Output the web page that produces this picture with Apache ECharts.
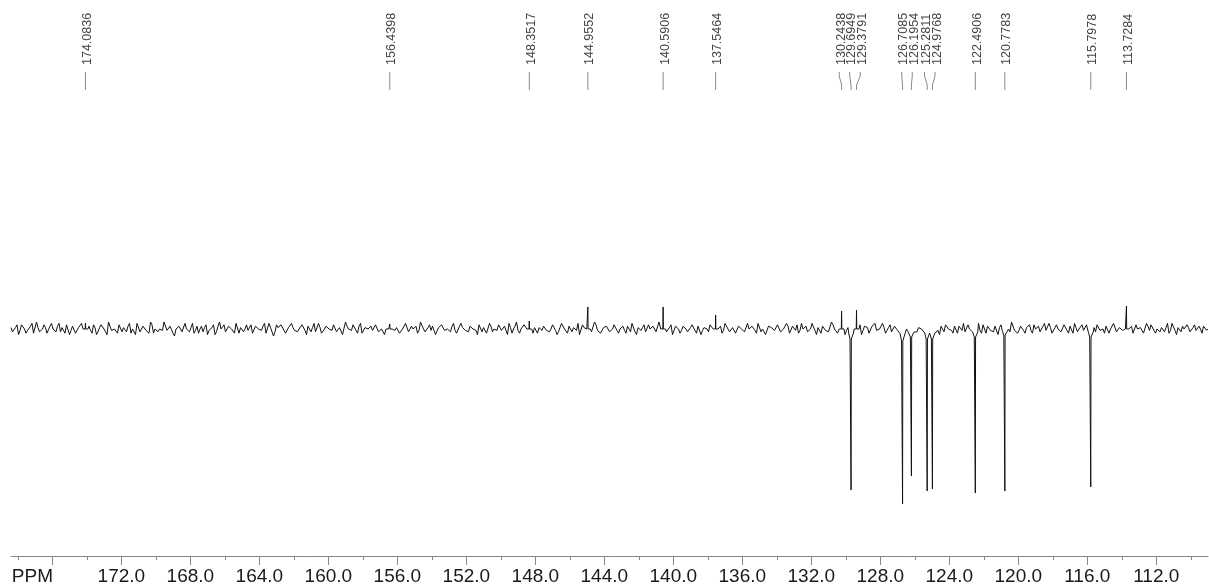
<!DOCTYPE html>
<html>
<head>
<meta charset="utf-8">
<script src="https://cdn.jsdelivr.net/npm/echarts@6/dist/echarts.min.js"></script>
<style>
  html, body { margin: 0; padding: 0; background: #fff; }
  #chart { width: 1209px; height: 588px; }
</style>
</head>
<body>
<div id="chart"></div>
<script>
// axis range (ppm, inverted)
const ppmMax = 178.4;
const ppmMin = 109.0;
const majorTicks = [176, 172, 168, 164, 160, 156, 152, 148, 144, 140, 136, 132, 128, 124, 120, 116, 112];
const minorTicks = [178, 174, 170, 166, 162, 158, 154, 150, 146, 142, 138, 134, 130, 126, 122, 118, 114, 110];

// picked peaks
const peakPpm = [174.0836, 156.4398, 148.3517, 144.9552, 140.5906, 137.5464, 130.2438, 129.6949, 129.3791,
  126.7085, 126.1954, 125.2811, 124.9768, 122.4906, 120.7783, 115.7978, 113.7284];
const peakHeight = [6, 5, 8, 22, 22, 14, 18, -161, 19, -175, -147, -162, -160, -164, -162, -158, 23];
const peakDip = [0, 0, 0, 0, 0, 0, 0, -10, 0, -12, -8, -10, -10, -8, -6, -8, 0];

// baseline noise, read left to right (two interleaved runs)
const noise = [
  1,-2,3,-1,2,-3,0,4,-2,1,-1,3,-3,2,0,-2,4,1,-3,2,
  -1,3,-2,0,5,-1,2,-3,1,-2,3,0,-4,2,-1,1,3,-2,0,2,
  -3,1,4,-2,2,-1,-3,3,0,-2,1,5,-1,2,-3,0,2,-2,4,-1,
  1,-3,2,0,-2,3,-1,1,-4,2,0,3,-2,1,-1,4,-3,2,0,-1,
  3,-2,1,-1,2,-3,4,0,-2,1,3,-1,-3,2,1,-2,0,3,-1,2,
  -2,4,-1,1,-3,2,0,-1,3,-2,1,-4,2,0,3,-1,2,-3,1,0,
  2,-1,3,-3,1,0,-2,5,-1,2,-2,1,3,-3,0,2,-1,4,-2,1,
  -1,2,-3,1,3,-2,0,2,-1,-3,4,1,-2,2,0,-1,3,-2,1,-4,
  2,0,-1,3,-2,1,4,-3,2,-1,0,3,-2,1,-3,2,1,-1,3,-2,
  0,2,-4,1,3,-1,2,-2,0,4,-3,1,-1,2,-2,3,0,-3,2,1,
  -2,3,-1,0,2,-3,1,4,-2,1,-1,3,-3,0,2,-2,5,-1,1,-2,
  3,-1,1,-3,2,0,-2,3,-1,2,-4,1,0,3,-2,2,-1,-3,4,0,
  -1,2,-2,3,1,-3,0,2,-1,4,-2,1,-3,2,0,-1,3,-2,1,2,
  -3,1,3,-1,0,2,-2,4,-1,1,-3,2,0,-2,3,1,-1,2,-4,1,
  2,-2,0,3,-1,1,-3,2,4,-2,0,1,-1,3,-3,2,-1,0,2,-2,
  1,3,-2,0,-1,4,-3,2,1,-1,2,-2,3,0,-3,1,2,-1,-2,3,
  0,-2,2,-1,3,-3,1,0,2,-4,3,-1,1,-2,4,0,-1,2,-3,1,
  -1,3,0,-2,2,-1,4,-3,1,0,-2,3,-1,2,-3,1,0,3,-2,2,
  -2,1,3,-1,0,2,-3,1,4,-2,1,-1,2,0,-3,3,-1,1,-2,2,
  3,-1,0,-2,2,1,-3,4,-1,1,-2,0,3,-2,1,-1,2,-3,1,0
];
const noiseB = [
  -2,1,-4,3,0,-1,2,-3,5,-2,0,1,-3,4,-1,2,-2,0,3,-4,
  2,-3,1,4,-2,0,-1,3,-4,1,2,-2,5,-1,0,-3,2,1,-2,4,
  0,-4,3,-1,2,-2,5,-3,1,0,-1,4,-2,2,-5,1,3,-1,0,-2,
  4,-1,-3,2,1,-4,0,3,-2,5,-1,-2,2,0,-3,4,1,-2,3,-1,
  -3,2,0,-1,4,-2,1,-5,3,0,2,-3,1,4,-1,-2,0,3,-4,2,
  1,-2,4,-3,0,2,-1,3,-2,1,-4,5,0,-1,2,-3,4,-2,1,-1,
  -1,3,-2,0,-4,2,3,-1,1,-3,0,4,-2,2,-1,-3,5,0,-2,3,
  2,-4,1,3,-1,0,-2,4,-3,2,1,-1,-2,3,0,-4,2,1,-3,4,
  -2,0,3,-1,2,-4,1,0,5,-3,-1,2,-2,4,1,-3,0,2,-1,-2,
  3,-1,-2,4,0,-3,2,1,-1,-4,3,0,2,-2,5,-1,-3,1,2,-2,
  0,4,-3,1,-1,2,-2,5,-4,0,1,-2,3,-1,2,-3,0,4,-2,1,
  -4,2,0,-1,3,-2,1,4,-3,2,-1,0,-2,3,1,-4,2,-1,5,-2,
  1,-3,2,0,-2,4,-1,1,-3,3,0,-4,2,1,-1,3,-2,0,4,-3,
  2,-1,-3,4,1,-2,0,3,-4,1,2,-1,-2,5,0,-3,1,2,-1,-2,
  -1,3,0,-4,2,1,-2,3,-1,0,4,-3,1,-2,2,-1,5,-2,0,-3,
  3,-2,1,0,-3,4,-1,2,-2,-4,1,3,0,-1,2,-3,1,4,-2,0,
  -2,1,4,-3,0,2,-1,-2,3,1,-4,2,0,5,-1,-3,2,-1,1,3,
  -3,0,2,-1,4,-2,1,-4,3,0,-1,2,-3,1,4,-2,0,-1,3,-2,
  1,-2,3,-1,-3,2,0,4,-2,1,-1,-4,3,2,-2,0,1,-3,4,-1,
  2,-3,0,1,-2,4,-1,3,-4,0,2,-1,1,-3,3,-2,0,2,-1,1
];
const noiseGain = 1.4;

// build spectrum points
const step = (ppmMax - ppmMin) / (noise.length - 1);
let pts = [];
const addNoise = (p, v) => {
  if (p < ppmMin) return;
  if (!peakPpm.some(pp => Math.abs(pp - p) < 0.16)) pts.push([p, v * noiseGain]);
};
noise.forEach((v, i) => {
  addNoise(ppmMax - i * step, v);
  addNoise(ppmMax - (i + 0.5) * step, noiseB[i]);
});
peakPpm.forEach((p, i) => {
  const d = peakDip[i];
  pts.push([p + 0.14, d * 0.4], [p + 0.06, d], [p + 0.015, d], [p, peakHeight[i]], [p - 0.015, d], [p - 0.06, d], [p - 0.14, d * 0.4]);
});
pts.sort((a, b) => b[0] - a[0]);

// spread crowded peak labels apart
function spread(xs, gap) {
  const pos = xs.slice();
  for (let k = 0; k < 60; k++) {
    for (let i = 1; i < pos.length; i++) {
      const d = pos[i] - pos[i - 1];
      if (d < gap) {
        const s = (gap - d) / 2;
        pos[i - 1] -= s;
        pos[i] += s;
      }
    }
  }
  return pos;
}

const myChart = echarts.init(document.getElementById('chart'));
const fontAxis = '"Liberation Sans", Arial, sans-serif';

const option = {
  animation: false,
  grid: { left: 11, right: 1, top: 100, bottom: 32 },
  xAxis: [
    {
      type: 'value',
      min: ppmMin,
      max: ppmMax,
      inverse: true,
      position: 'bottom',
      axisLine: { onZero: false, lineStyle: { color: '#8a8a8a', width: 1 } },
      axisTick: { customValues: majorTicks, length: 9, lineStyle: { color: '#8a8a8a' } },
      axisLabel: {
        customValues: majorTicks,
        margin: 11,
        color: '#1a1a1a',
        fontSize: 19,
        fontFamily: fontAxis,
        formatter: v => v === 176 ? '{p|PPM}' : v.toFixed(1),
        rich: { p: { fontSize: 19, fontFamily: fontAxis, color: '#1a1a1a', padding: [0, 40, 0, 0] } }
      },
      splitLine: { show: false }
    },
    {
      type: 'value',
      min: ppmMin,
      max: ppmMax,
      inverse: true,
      position: 'bottom',
      axisLine: { show: false, onZero: false },
      axisTick: { customValues: minorTicks, length: 4, lineStyle: { color: '#8a8a8a' } },
      axisLabel: { show: false },
      splitLine: { show: false }
    }
  ],
  yAxis: { type: 'value', min: -227, max: 229, show: false },
  series: [
    {
      type: 'line',
      data: pts,
      showSymbol: false,
      symbol: 'none',
      lineStyle: { color: '#111', width: 1 },
      silent: true
    },
    {
      type: 'custom',
      clip: false,
      silent: true,
      data: peakPpm.map(p => [p, 0]),
      renderItem: (params, api) => {
        const xs = peakPpm.map(p => api.coord([p, 0])[0]);
        const lx = spread(xs, 10.5);
        const i = params.dataIndex;
        const px = xs[i], tx = lx[i];
        return {
          type: 'group',
          children: [
            {
              type: 'text',
              x: tx + 2,
              y: 65,
              rotation: Math.PI / 2,
              style: {
                text: peakPpm[i].toFixed(4),
                fill: '#444',
                font: '12.5px "Liberation Sans", Arial, sans-serif',
                align: 'left',
                verticalAlign: 'middle'
              }
            },
            {
              type: 'polyline',
              shape: { points: [[tx, 72], [tx, 76], [px, 85], [px, 90]] },
              style: { stroke: '#8a8a8a', lineWidth: 1, fill: null }
            }
          ]
        };
      }
    }
  ]
};
myChart.setOption(option);
</script>
</body>
</html>
